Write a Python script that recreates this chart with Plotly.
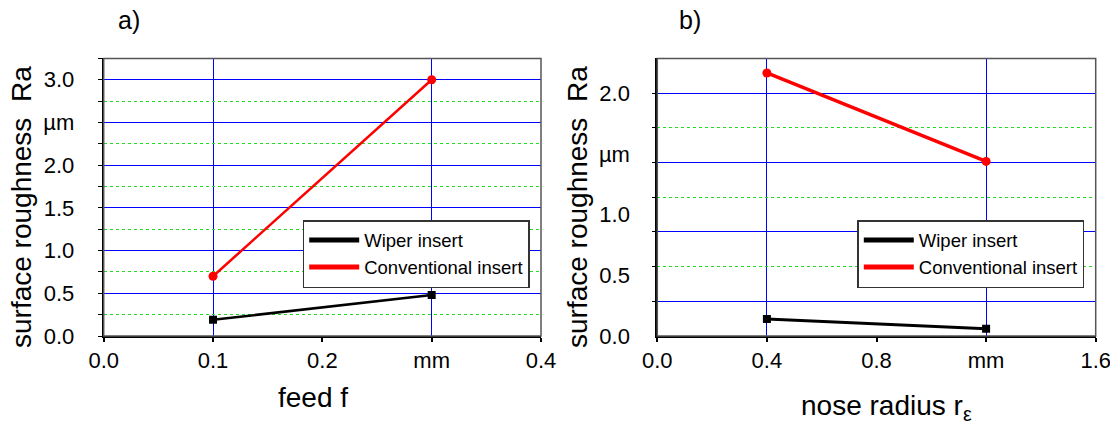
import plotly.graph_objects as go

# ---- data -------------------------------------------------------------
feed = [0.1, 0.3]                       # feed f, mm
ra_wiper_feed = [0.19, 0.48]            # Ra, µm
ra_conv_feed = [0.70, 3.00]

nose = [0.4, 1.2]                       # nose radius, mm
ra_wiper_nose = [0.14, 0.06]
ra_conv_nose = [2.17, 1.44]

feed_ticks = [0.0, 0.1, 0.2, 0.3, 0.4]
feed_ticktext = ["0.0", "0.1", "0.2", "mm", "0.4"]
nose_ticks = [0.0, 0.4, 0.8, 1.2, 1.6]
nose_ticktext = ["0.0", "0.4", "0.8", "mm", "1.6"]
ra_ticks_a = [0.0, 0.5, 1.0, 1.5, 2.0, 2.5, 3.0]
ra_ticktext_a = ["0.0", "0.5", "1.0", "1.5", "2.0", "µm", "3.0"]
ra_ticks_b = [0.0, 0.5, 1.0, 1.5, 2.0]
ra_ticktext_b = ["0.0", "0.5", "1.0", "µm", "2.0"]

series_names = ["Wiper insert", "Conventional insert"]
series_colors = ["#000000", "#ff0000"]

# ---- style ------------------------------------------------------------
W, H = 1110, 425
FONT = "Liberation Sans, Arial, sans-serif"
BLUE = "#0000ff"
GREEN = "#22dd22"
TICK_FONT = dict(family=FONT, size=22, color="black")


def px_x(p):
    return p / W


def px_y(p):
    return 1 - p / H


dom_a = [px_x(103.7), px_x(541.0)]
dom_b = [px_x(657.3), px_x(1095.7)]
dom_y = [px_y(336.0), px_y(58.4)]

fig = go.Figure()

# panel a
fig.add_trace(go.Scatter(x=feed, y=ra_wiper_feed, mode="lines+markers",
                         line=dict(color=series_colors[0], width=2.5),
                         marker=dict(symbol="square", size=8, color=series_colors[0]),
                         xaxis="x", yaxis="y", showlegend=False))
fig.add_trace(go.Scatter(x=feed, y=ra_conv_feed, mode="lines+markers",
                         line=dict(color=series_colors[1], width=2.5),
                         marker=dict(symbol="circle", size=9, color=series_colors[1]),
                         xaxis="x", yaxis="y", showlegend=False))

# panel b
fig.add_trace(go.Scatter(x=nose, y=ra_wiper_nose, mode="lines+markers",
                         line=dict(color=series_colors[0], width=3),
                         marker=dict(symbol="square", size=8, color=series_colors[0]),
                         xaxis="x2", yaxis="y2", showlegend=False))
fig.add_trace(go.Scatter(x=nose, y=ra_conv_nose, mode="lines+markers",
                         line=dict(color=series_colors[1], width=3.5),
                         marker=dict(symbol="circle", size=9, color=series_colors[1]),
                         xaxis="x2", yaxis="y2", showlegend=False))
# carrier for the grid axis of panel b
fig.add_trace(go.Scatter(x=[], y=[], xaxis="x2", yaxis="y3",
                         showlegend=False, hoverinfo="skip"))

# legend entries (line samples only)
for name, col in zip(series_names, series_colors):
    fig.add_trace(go.Scatter(x=[None], y=[None], mode="lines", name=name,
                             line=dict(color=col, width=5),
                             xaxis="x", yaxis="y", legend="legend"))
    fig.add_trace(go.Scatter(x=[None], y=[None], mode="lines", name=name,
                             line=dict(color=col, width=5),
                             xaxis="x2", yaxis="y2", legend="legend2"))

common_x = dict(showline=True, linecolor="black", linewidth=2, ticks="outside",
                ticklen=4, tickcolor="black", tickwidth=1.5, showgrid=False,
                zeroline=False, tickfont=TICK_FONT, automargin=False,
                ticklabelstandoff=0, ticklabeloverflow="allow")

fig.update_layout(
    width=W, height=H,
    margin=dict(l=0, r=0, t=0, b=0),
    paper_bgcolor="white", plot_bgcolor="white",
    font=dict(family=FONT, color="black"),
    xaxis=dict(domain=dom_a, range=[0, 0.4], tickmode="array",
               tickvals=feed_ticks, ticktext=feed_ticktext, anchor="y",
               minor=dict(tickmode="array", tickvals=[0.1, 0.3], showgrid=True,
                          gridcolor=BLUE, gridwidth=1, ticks=""),
               **common_x),
    yaxis=dict(domain=dom_y, range=[0, 3.25], tickmode="array",
               tickvals=ra_ticks_a, ticktext=ra_ticktext_a, anchor="x",
               showline=True, linecolor="black", linewidth=2,
               ticks="outside", ticklen=4, tickcolor="black",
               showgrid=True, gridcolor=BLUE, gridwidth=1, zeroline=False,
               minor=dict(tick0=0, dtick=0.25, showgrid=True, gridcolor=GREEN,
                          gridwidth=1, griddash="dot", ticks="outside",
                          ticklen=4, tickcolor="black"),
               tickfont=TICK_FONT, ticklabelstandoff=19, automargin=False,
               ticklabeloverflow="allow"),
    xaxis2=dict(domain=dom_b, range=[0, 1.6], tickmode="array",
                tickvals=nose_ticks, ticktext=nose_ticktext, anchor="y2",
                minor=dict(tickmode="array", tickvals=[0.4, 1.2], showgrid=True,
                           gridcolor=BLUE, gridwidth=1, ticks=""),
                **common_x),
    yaxis2=dict(domain=dom_y, range=[0, 2.29], tickmode="array",
                tickvals=ra_ticks_b, ticktext=ra_ticktext_b, anchor="x2",
                showline=True, linecolor="black", linewidth=2, ticks="",
                showgrid=False, zeroline=False, tickfont=TICK_FONT,
                ticklabelstandoff=21, automargin=False,
                ticklabeloverflow="allow"),
    yaxis3=dict(overlaying="y2", anchor="x2", side="left", range=[0, 8],
                tickmode="array", tickvals=[1, 3, 5, 7], showticklabels=False,
                ticks="outside", ticklen=4, tickcolor="black",
                showgrid=True, gridcolor=BLUE, gridwidth=1, zeroline=False,
                showline=False,
                minor=dict(tickmode="array", tickvals=[2, 4, 6], showgrid=True,
                           gridcolor=GREEN, gridwidth=1, griddash="dot",
                           ticks="outside", ticklen=4, tickcolor="black"),
                automargin=False),
    legend=dict(x=px_x(302.7), y=px_y(220), xanchor="left", yanchor="top",
                bgcolor="white", bordercolor="#333333", borderwidth=1.5,
                font=dict(family=FONT, size=18.5, color="black"),
                tracegroupgap=0, itemwidth=50),
    legend2=dict(x=px_x(857.3), y=px_y(220), xanchor="left", yanchor="top",
                 bgcolor="white", bordercolor="#333333", borderwidth=1.5,
                 font=dict(family=FONT, size=18.5, color="black"),
                 tracegroupgap=0, itemwidth=50),
)

# plot frames (top / right edges)
for xd, yd in (("x domain", "y domain"), ("x2 domain", "y2 domain")):
    fig.add_shape(type="rect", xref=xd, yref=yd, x0=0, x1=1, y0=0, y1=1,
                  line=dict(color="#555555", width=1.5), layer="above")

TITLE_FONT = dict(family=FONT, size=28, color="black")
LABEL_FONT = dict(family=FONT, size=25, color="black")
annos = [
    dict(x=px_x(21), y=px_y(207), text="surface roughness  Ra", textangle=-90, font=TITLE_FONT),
    dict(x=px_x(577), y=px_y(207), text="surface roughness  Ra", textangle=-90, font=TITLE_FONT),
    dict(x=px_x(313), y=px_y(397), text="feed f", font=TITLE_FONT),
    dict(x=px_x(886), y=px_y(407), text="nose radius r<sub>ε</sub>", font=TITLE_FONT),
    dict(x=px_x(129), y=px_y(20), text="a)", font=LABEL_FONT),
    dict(x=px_x(690), y=px_y(20), text="b)", font=LABEL_FONT),
]
for a in annos:
    fig.add_annotation(xref="paper", yref="paper", showarrow=False,
                       xanchor="center", yanchor="middle", **a)

fig.write_html("out.html")
